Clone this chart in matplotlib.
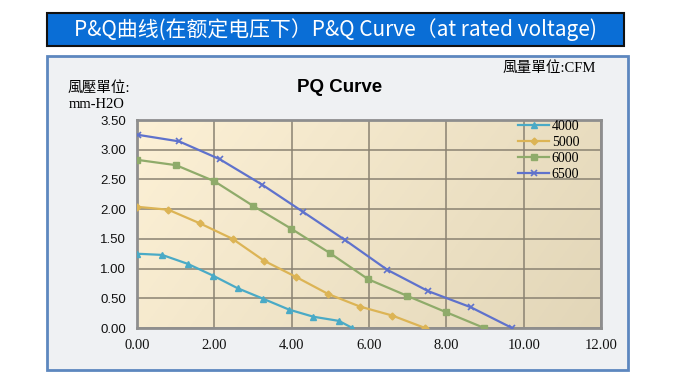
import numpy as np
import matplotlib.pyplot as plt
from matplotlib.patches import Rectangle

# PQ data (CFM, mm-H2O)
q_4000 = [0.00, 0.65, 1.31, 1.97, 2.60, 3.27, 3.93, 4.56, 5.22, 5.57]
p_4000 = [1.25, 1.23, 1.08, 0.88, 0.67, 0.49, 0.31, 0.19, 0.12, 0.00]
q_5000 = [0.00, 0.81, 1.63, 2.47, 3.29, 4.11, 4.95, 5.77, 6.60, 7.45]
p_5000 = [2.04, 1.99, 1.76, 1.50, 1.13, 0.86, 0.57, 0.36, 0.21, 0.00]
q_6000 = [0.00, 1.01, 2.00, 2.99, 3.99, 4.99, 5.98, 6.99, 7.98, 8.98]
p_6000 = [2.83, 2.74, 2.47, 2.06, 1.67, 1.26, 0.82, 0.54, 0.27, 0.00]
q_6500 = [0.03, 1.09, 2.14, 3.24, 4.28, 5.38, 6.47, 7.53, 8.63, 9.70]
p_6500 = [3.25, 3.14, 2.84, 2.41, 1.96, 1.48, 0.98, 0.62, 0.35, 0.00]

x_ticks = [0, 2, 4, 6, 8, 10, 12]
y_ticks = [0, 0.5, 1.0, 1.5, 2.0, 2.5, 3.0, 3.5]

SERIF = ['Liberation Serif', 'Noto Sans CJK TC']

fig = plt.figure(figsize=(6.8, 3.8), dpi=100)
fig.patch.set_facecolor('white')

# blue title banner
fig.patches.append(Rectangle((0.069, 0.879), 0.849, 0.087, transform=fig.transFigure,
                             facecolor='#0a6ed6', edgecolor='#111111', lw=1.5, zorder=-1))
fig.text(0.493, 0.922, 'P&Q曲线(在额定电压下）P&Q Curve（at rated voltage)',
         color='white', fontsize=15, ha='center', va='center',
         family=['Noto Sans CJK SC', 'DejaVu Sans'])

# outer chart frame
fig.patches.append(Rectangle((0.069, 0.026), 0.855, 0.827, transform=fig.transFigure,
                             facecolor='#eff1f3', edgecolor='#5d87bf', lw=2, zorder=-1))

ax = fig.add_axes([0.2015, 0.1368, 0.6824, 0.5474])

# cream to tan gradient background
gx, gy = np.meshgrid(np.linspace(0, 1, 200), np.linspace(0, 1, 100))
g = 0.75 * gx + 0.25 * gy
c0 = np.array([253, 241, 214]) / 255
c1 = np.array([226, 214, 184]) / 255
img = c0[None, None, :] * (1 - g[..., None]) + c1[None, None, :] * g[..., None]
ax.imshow(img, extent=[0, 12, 0, 3.5], aspect='auto', origin='upper', zorder=0)

ax.plot(q_4000, p_4000, color='#4aaac6', marker='^', ms=5, lw=1.6, label='4000', zorder=3)
ax.plot(q_5000, p_5000, color='#dcb455', marker='D', ms=3.5, lw=1.6, label='5000', zorder=3)
ax.plot(q_6000, p_6000, color='#8fab6a', marker='s', ms=5, lw=1.6, label='6000', zorder=3)
ax.plot(q_6500, p_6500, color='#5f72cc', marker='x', ms=5, mew=1.2, lw=1.6, label='6500', zorder=3)

ax.set_xlim(0, 12)
ax.set_ylim(0, 3.5)
ax.set_xticks(x_ticks)
ax.set_xticklabels([f'{v:.2f}' for v in x_ticks], family='Liberation Serif', fontsize=10.5)
ax.set_yticks(y_ticks)
ax.set_yticklabels([f'{v:.2f}' for v in y_ticks], family='Liberation Sans', fontsize=9.5)
ax.tick_params(length=0, pad=8, colors='#111111')
ax.grid(True, color='#8a8272', lw=1.1, zorder=1)
ax.set_axisbelow(True)
for s in ax.spines.values():
    s.set_color('#8e8e8e')
    s.set_linewidth(2)

leg = ax.legend(loc='upper right', bbox_to_anchor=(0.965, 1.025), frameon=False,
                prop={'family': 'Liberation Serif', 'size': 10}, handlelength=2.2,
                handletextpad=0.2, labelspacing=0.2, borderaxespad=0.0)

fig.text(0.5, 0.77, 'PQ Curve', fontsize=13.5, fontweight='bold', ha='center', va='center',
         family='Liberation Sans')
fig.text(0.876, 0.82, '風量單位:CFM', fontsize=10.5, ha='right', va='center', family=SERIF)
fig.text(0.1, 0.768, '風壓單位:', fontsize=10.5, ha='left', va='center', family=SERIF)
fig.text(0.101, 0.726, 'mm-H2O', fontsize=10.5, ha='left', va='center', family=SERIF)

fig.savefig('out.png', dpi=100)
